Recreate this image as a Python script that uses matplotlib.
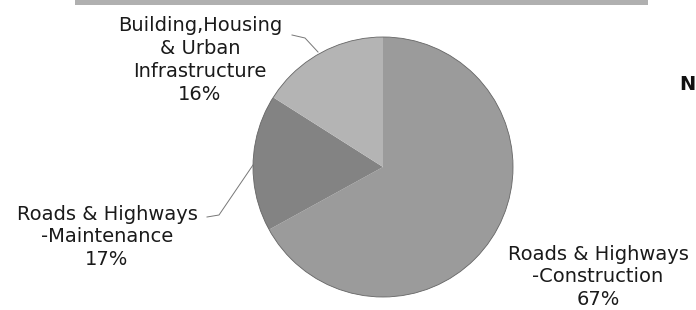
import matplotlib
matplotlib.use('Agg')
import matplotlib.pyplot as plt
from matplotlib.patches import Rectangle, Circle

# Data
LABELS = ['Roads & Highways\n-Construction',
          'Roads & Highways\n-Maintenance',
          'Building,Housing\n& Urban\nInfrastructure']
SHARES = [67, 17, 16]
COLORS = ['#9b9b9b', '#838383', '#b4b4b4']

W, H = 696, 310


def main():
    plt.rcParams['font.family'] = ['DejaVu Sans']
    fig = plt.figure(figsize=(W / 100, H / 100), dpi=100)
    ax = fig.add_axes([0, 0, 1, 1])

    # pixel coordinates, y measured upward
    cx, cy, r = 383, H - 167, 130
    wedges, _ = ax.pie(SHARES, colors=COLORS, startangle=90, counterclock=False,
                       center=(cx, cy), radius=r, frame=True,
                       wedgeprops=dict(edgecolor='none'))
    ax.set_xlim(0, W)
    ax.set_ylim(0, H)
    ax.set_aspect('equal')
    ax.axis('off')

    # thin darker rim like the scan
    ax.add_patch(Circle((cx, cy), r, fill=False, edgecolor='#666666', lw=0.6))

    # grey strip at the top edge (remains of the page header)
    ax.add_patch(Rectangle((75, H - 5), 573, 5, color='#b0b0b0', lw=0))

    txt = dict(ha='center', va='center', fontsize=14, linespacing=1.25,
               color='#1a1a1a')
    ax.text(598, H - 277, f'{LABELS[0]}\n{SHARES[0]}%', **txt)
    ax.text(107, H - 237, f'{LABELS[1]}\n{SHARES[1]}%', **txt)
    ax.text(200, H - 60, f'{LABELS[2]}\n{SHARES[2]}%', **txt)

    # leader lines
    ax.plot([292, 305, 318], [H - 35, H - 38, H - 52], color='#777777', lw=0.7)
    ax.plot([207, 219, 253], [H - 217, H - 215, H - 165], color='#777777', lw=0.7)

    # cut-off text at the right edge
    ax.text(679, H - 84, 'Ne', ha='left', va='center', fontsize=14,
            fontweight='bold', color='#111111')

    fig.savefig('out.png', dpi=100, facecolor='white')
    plt.close(fig)


if __name__ == '__main__':
    main()
